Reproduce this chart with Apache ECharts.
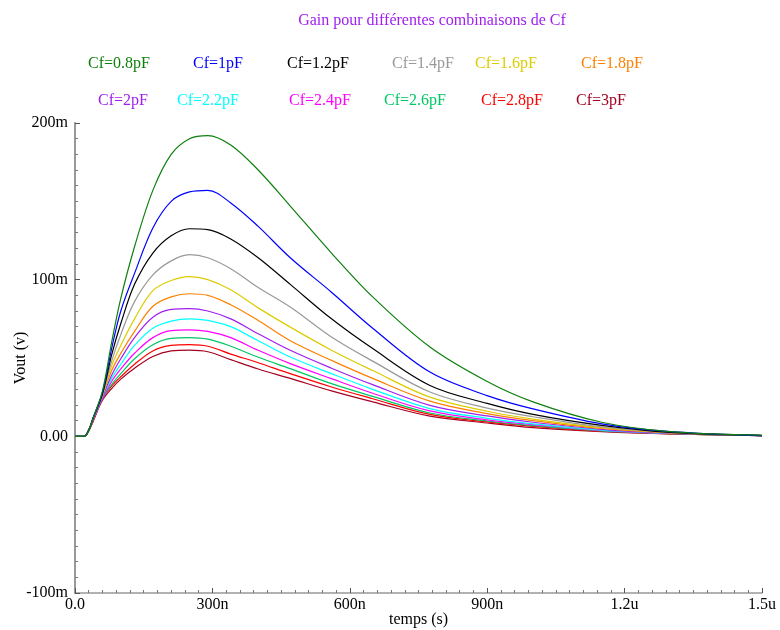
<!DOCTYPE html>
<html>
<head>
    <meta charset="utf-8">
    <title>Gain pour différentes combinaisons de Cf</title>
    <script src="https://cdn.jsdelivr.net/npm/echarts@6/dist/echarts.min.js"></script>
    <style>
        body { margin: 0; background: #fff; }
        #chart { width: 780px; height: 630px; }
    </style>
</head>
<body>
    <div id="chart"></div>
    <script>
        // temps en ns, tensions en mV
        var temps = [0, 20, 30, 40, 60, 80, 100, 130, 170, 210, 250, 290, 340, 400, 470, 560, 650, 775, 900, 1000, 1150, 1300, 1500];
        var cf08 = [0, 0, 4, 12, 29, 60, 88, 121, 157, 180, 190, 192, 186, 170, 147, 117, 89, 57, 35, 22, 9, 3, 0.8];
        var cf1 = [0, 0, 4, 12, 28, 56, 80, 104, 133, 150, 156, 157, 149, 134, 114, 92, 69, 41, 26, 17.5, 8, 3, 0.5];
        var cf12 = [0, 0, 4, 12, 27, 52, 72, 97, 117, 128, 132.5, 132, 126, 114, 97, 75, 56, 32.5, 21, 14, 7, 2.5, 0.5];
        var cf14 = [0, 0, 4, 12, 27, 48, 65, 86, 103, 112, 116, 114, 107, 95, 82.5, 63.4, 48, 28.3, 18, 12.5, 6, 2.5, 0.5];
        var cf16 = [0, 0, 4, 12, 26, 45, 58, 75, 93, 99.5, 102, 100, 93.5, 82, 69.7, 55, 42, 25, 16, 11, 5.5, 2.3, 0.5];
        var cf18 = [0, 0, 4, 12, 26, 42, 53, 67, 83, 89, 91, 90, 84, 74, 61, 48.5, 37, 22.5, 14.5, 10, 5, 2.2, 0.5];
        var cf2 = [0, 0, 4, 11, 25, 39, 49.5, 63, 76, 81, 81.5, 80, 75, 65.5, 54.9, 43.5, 33, 19.8, 13, 9, 4.5, 2, 0.5];
        var cf22 = [0, 0, 4, 11, 25, 37, 46, 58, 69, 73.5, 75, 74, 70, 61, 50.6, 40, 30, 17.7, 11.5, 8, 4, 2, 0.5];
        var cf24 = [0, 0, 4, 11, 24, 35, 43, 53, 63, 67.5, 68, 67, 63, 54.9, 46.4, 36.8, 27.5, 16.2, 10.5, 7.5, 3.8, 1.8, 0.4];
        var cf26 = [0, 0, 3.5, 11, 24, 33, 40, 49.5, 58.5, 62.5, 63, 62, 57.5, 50.5, 43.2, 33.6, 25.5, 14.9, 9.8, 6.8, 3.5, 1.7, 0.4];
        var cf28 = [0, 0, 3.5, 10, 24, 32, 38, 46, 54.5, 58, 58.5, 57.5, 52.5, 47, 40, 31.5, 24, 14, 9.2, 6.4, 3.3, 1.6, 0.4];
        var cf3 = [0, 0, 3.5, 10, 23, 30.5, 36.5, 43.5, 51, 54.5, 55, 54, 49, 43, 37, 29, 22, 12.9, 8.5, 5.5, 3, 1.5, 0.4];

        var noms = ['Cf=0.8pF', 'Cf=1pF', 'Cf=1.2pF', 'Cf=1.4pF', 'Cf=1.6pF', 'Cf=1.8pF',
                    'Cf=2pF', 'Cf=2.2pF', 'Cf=2.4pF', 'Cf=2.6pF', 'Cf=2.8pF', 'Cf=3pF'];
        var valeurs = [cf08, cf1, cf12, cf14, cf16, cf18, cf2, cf22, cf24, cf26, cf28, cf3];
        var xLabels = ['0.0', '300n', '600n', '900n', '1.2u', '1.5u'];
        var yLabels = ['-100m', '0.00', '100m', '200m'];

        var couleurs = ['#0d800d', '#0000ff', '#000000', '#999999', '#dccc00', '#ff8000',
                        '#a020f0', '#00ffff', '#ff00ff', '#00c864', '#ff0000', '#a50021'];
        // position des libelles de legende (gauche, milieu)
        var legX = [88, 193, 287, 392, 475, 581, 98, 177, 289, 384, 481, 576];
        var legY = [65, 65, 65, 65, 65, 65, 102, 102, 102, 102, 102, 102];

        var police = 'Liberation Serif';
        var chart = echarts.init(document.getElementById('chart'));

        var series = [], graphics = [];
        for (var i = noms.length - 1; i >= 0; i--) {
            var pts = [];
            for (var j = 0; j < temps.length; j++) pts.push([temps[j], valeurs[i][j]]);
            series.push({
                name: noms[i], type: 'line', data: pts,
                showSymbol: false, smooth: 0.35,
                lineStyle: {width: 1.2, color: couleurs[i]},
                itemStyle: {color: couleurs[i]}
            });
        }
        for (var k = 0; k < noms.length; k++) {
            graphics.push({
                type: 'text', left: legX[k], top: legY[k] - 9,
                style: {text: noms[k], fill: couleurs[k], font: '16px "' + police + '"'}
            });
        }

        chart.setOption({
            animation: false,
            backgroundColor: '#fff',
            title: {
                text: 'Gain pour différentes combinaisons de Cf',
                left: 427, top: 8, textAlign: 'center',
                textStyle: {fontFamily: police, fontSize: 16, fontWeight: 'normal', color: '#a020f0'}
            },
            graphic: graphics,
            grid: {left: 75, right: 18, top: 123, bottom: 37, outerBoundsMode: 'none'},
            xAxis: {
                type: 'value', min: 0, max: 1500, interval: 300,
                name: 'temps (s)', nameLocation: 'middle', nameGap: 19, nameMoveOverlap: false,
                nameTextStyle: {fontFamily: police, fontSize: 16, color: '#000'},
                axisLine: {onZero: false, lineStyle: {color: '#999', width: 1.5}},
                axisTick: {inside: true, length: 5, lineStyle: {color: '#555'}},
                minorTick: {show: true, splitNumber: 10, length: 3, lineStyle: {color: '#777'}},
                splitLine: {show: false},
                axisLabel: {
                    margin: 4, color: '#000', fontFamily: police, fontSize: 16,
                    formatter: function (v) { return xLabels[Math.round(v / 300)]; }
                }
            },
            yAxis: {
                type: 'value', min: -100, max: 200, interval: 100,
                name: 'Vout (v)', nameLocation: 'middle', nameGap: 46, nameMoveOverlap: false,
                nameTextStyle: {fontFamily: police, fontSize: 16, color: '#000'},
                axisLine: {show: true, onZero: false, lineStyle: {color: '#999', width: 2}},
                axisTick: {show: true, inside: true, length: 5, lineStyle: {color: '#555'}},
                minorTick: {show: true, splitNumber: 10, length: 3, lineStyle: {color: '#777'}},
                splitLine: {show: false},
                axisLabel: {
                    margin: 7, color: '#000', fontFamily: police, fontSize: 16,
                    formatter: function (v) { return yLabels[Math.round((v + 100) / 100)]; }
                }
            },
            series: series
        });
    </script>
</body>
</html>
